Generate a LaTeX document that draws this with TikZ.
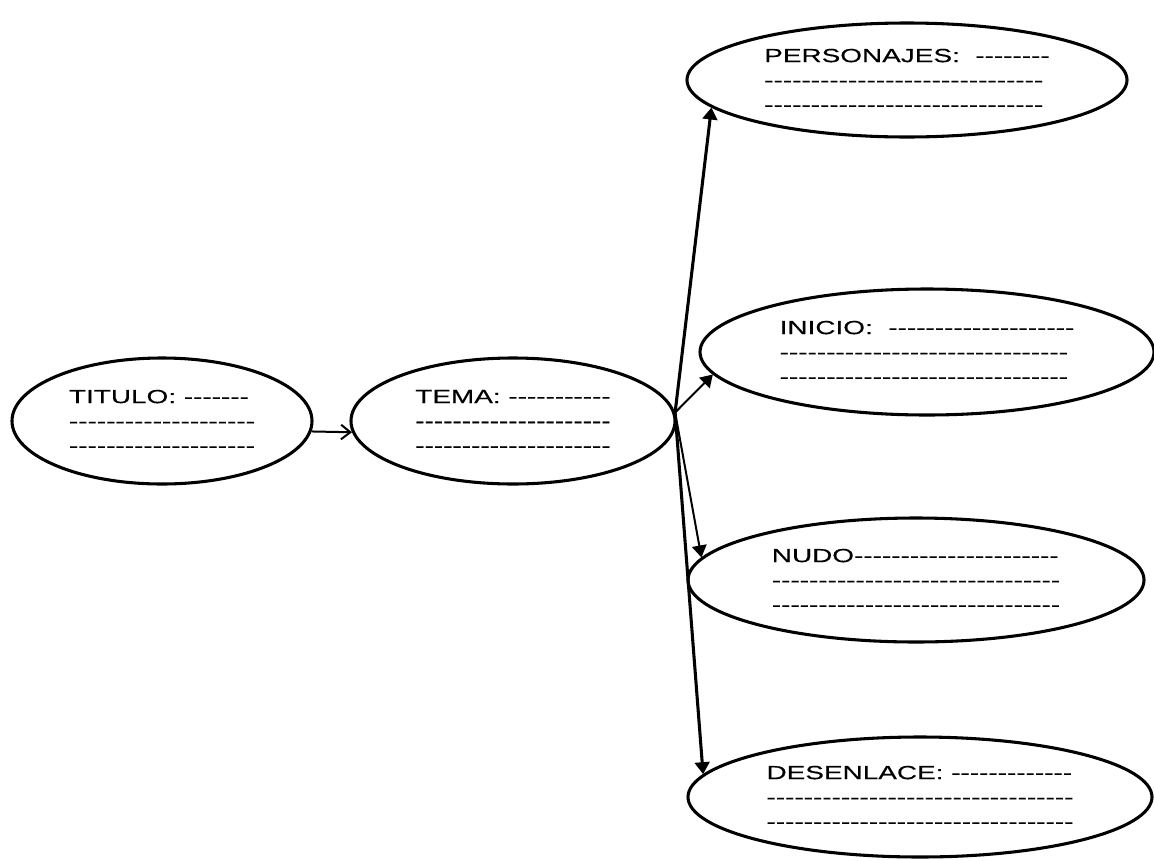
\documentclass[tikz,border=0pt]{standalone}
\usepackage{fontspec}
\usetikzlibrary{shapes.geometric,arrows.meta}
\newfontfamily\ovalfont[FakeStretch=1.47,FakeBold=0.4,Ligatures=TeXOff]{Liberation Sans}
\newcommand\dashline[1]{\foreach\n in {1,...,#1}{-}}

\begin{document}
\begin{tikzpicture}[x=0.75pt, y=-0.75pt,
    oval/.style={draw, ellipse, line width=2.3pt, inner sep=0pt, align=left,
      font=\ovalfont\fontsize{14.25}{18.4}\selectfont},
    thinarrow/.style={line width=1.5pt, -{Triangle[length=9pt,width=11pt]}},
    thickarrow/.style={line width=2.3pt, -{Triangle[length=9pt,width=11pt]}},
    openarrow/.style={line width=1.5pt, -{Straight Barb[length=7pt,width=11pt]}}]
  \useasboundingbox (0,0) rectangle (1154,861);
  % left side
  \node[oval, minimum width=225pt, minimum height=94.5pt] (titulo) at (162,421)
    {TITULO: \dashline{7}\\\dashline{20}\\\dashline{20}};
  \node[oval, minimum width=243pt, minimum height=94.5pt] (tema) at (513,421)
    {TEMA: \dashline{11}\\\dashline{21}\\\dashline{21}};
  % right side
  \node[oval, minimum width=330pt, minimum height=85.5pt] (personajes) at (907,80)
    {PERSONAJES:~ \dashline{8}\\\dashline{30}\\\dashline{30}};
  \node[oval, minimum width=340.5pt, minimum height=94.5pt] (inicio) at (927,352)
    {INICIO:~ \dashline{20}\\\dashline{31}\\\dashline{31}};
  \node[oval, minimum width=342pt, minimum height=93pt] (nudo) at (916,580)
    {NUDO\dashline{22}\\\dashline{31}\\\dashline{31}};
  \node[oval, minimum width=348pt, minimum height=90pt] (desenlace) at (920,797)
    {DESENLACE: \dashline{13}\\\dashline{33}\\\dashline{33}};
  % arrows
  \draw[openarrow] (titulo.-4) -- (tema.184);
  \draw[thickarrow] (tema.3) -- (personajes.188);
  \draw[thinarrow] (tema.3) -- (inicio.186);
  \draw[thinarrow] (tema.3) -- (nudo.174);
  \draw[thickarrow] (tema.3) -- (desenlace.174);
\end{tikzpicture}
\end{document}
